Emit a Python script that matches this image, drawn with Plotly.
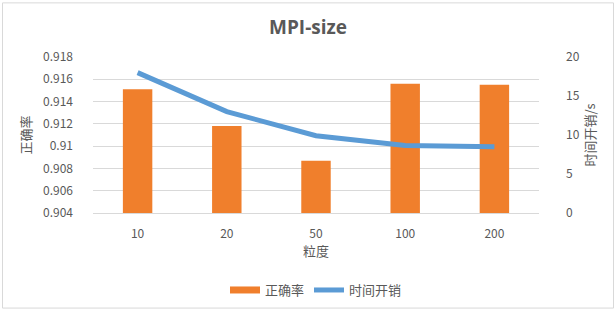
import plotly.graph_objects as go

categories = ["10", "20", "50", "100", "200"]
accuracy = [0.9151, 0.9118, 0.9087, 0.9156, 0.9155]
time_cost = [18.0, 13.0, 9.9, 8.65, 8.5]
left_ticks = [0.904, 0.906, 0.908, 0.910, 0.912, 0.914, 0.916, 0.918]
left_ticktext = ["0.904", "0.906", "0.908", "0.91", "0.912", "0.914", "0.916", "0.918"]
right_ticks = [0, 5, 10, 15, 20]

W, H = 616, 317
ML, MR, MT, MB = 93, 77, 57, 100
pw, ph = W - ML - MR, H - MT - MB

font_cjk = "Noto Sans CJK SC, Open Sans, sans-serif"
grey = "#595959"
orange = "#F07F2C"

fig = go.Figure()
fig.add_trace(go.Bar(
    x=categories, y=accuracy, name="正确率",
    marker=dict(color=orange, line=dict(width=0)),
    width=0.33, yaxis="y", showlegend=False,
))
fig.add_trace(go.Scatter(
    x=[None], y=[None], name="正确率", mode="lines",
    line=dict(color=orange, width=7), yaxis="y", showlegend=True,
))
fig.add_trace(go.Scatter(
    x=categories, y=time_cost, name="时间开销", mode="lines",
    line=dict(color="#5B9BD5", width=5), yaxis="y2",
))

fig.update_layout(
    width=W, height=H,
    margin=dict(l=ML, r=MR, t=MT, b=MB),
    paper_bgcolor="white", plot_bgcolor="white",
    font=dict(family=font_cjk, color=grey, size=12),
    title=dict(text="<b>MPI-size</b>", x=0.5, xanchor="center", y=1 - 27 / H, yanchor="middle",
               font=dict(family="Open Sans, sans-serif", size=19, color=grey)),
    xaxis=dict(type="category", showgrid=False, showline=True, linecolor="#D9D9D9",
               ticks="", tickfont=dict(size=12, color=grey), automargin=False,
               ticklabelstandoff=10,
               title=dict(text="粒度", font=dict(size=13, color=grey), standoff=4)),
    yaxis=dict(range=[0.904, 0.918], tickvals=left_ticks, ticktext=left_ticktext,
               showgrid=True, gridcolor="#D9D9D9", zeroline=False, ticks="",
               tickfont=dict(size=12, color=grey), automargin=False,
               ticklabelstandoff=19,
               title=dict(text="正确率", font=dict(size=13, color=grey), standoff=8)),
    yaxis2=dict(range=[0, 20], tickvals=right_ticks, overlaying="y", side="right",
                showgrid=False, zeroline=False, ticks="", automargin=False,
                tickfont=dict(size=12, color=grey), ticklabelstandoff=26,
                title=dict(text="时间开销/s", font=dict(size=13, color=grey), standoff=4)),
    legend=dict(orientation="h", x=0.5, xanchor="center", y=-(296 - 217) / ph, yanchor="middle",
                font=dict(size=13, color=grey), itemwidth=30, traceorder="normal"),
    bargap=0.67,
    showlegend=True,
)

fig.add_shape(type="rect", xref="paper", yref="paper",
              x0=-(ML - 2.5) / pw, x1=(pw + MR - 2.5) / pw,
              y0=-(MB - 2.5) / ph, y1=(ph + MT - 1.5) / ph,
              line=dict(color="#D9D9D9", width=1), fillcolor="rgba(0,0,0,0)", layer="below")

fig.write_html("out.html")
